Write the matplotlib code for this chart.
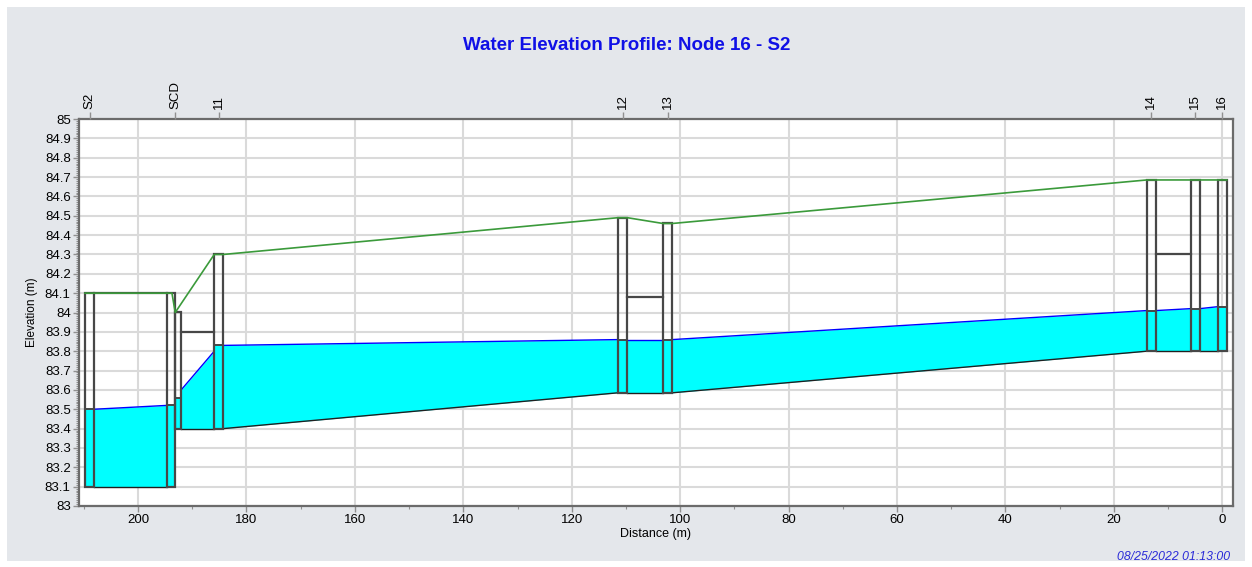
import matplotlib
matplotlib.use("Agg")
import matplotlib.pyplot as plt
from matplotlib.patches import Rectangle
from matplotlib.ticker import MultipleLocator, FuncFormatter

# ---------------- data ----------------
node_names = ["S2", "SCD", "11", "12", "13", "14", "15", "16"]
node_dist = [208.95, 193.15, 185.1, 110.6, 102.3, 13.05, 4.95, 0.0]
node_invert = [83.10, 83.40, 83.40, 83.585, 83.585, 83.80, 83.80, 83.80]
node_rim = [84.10, 84.00, 84.30, 84.49, 84.46, 84.685, 84.685, 84.685]
node_water = [83.50, 83.56, 83.83, 83.86, 83.86, 84.01, 84.02, 84.03]

# links between consecutive nodes (upstream -> downstream)
link_up_invert = [83.10, 83.40, 83.40, 83.585, 83.585, 83.80, 83.80]
link_dn_invert = [83.10, 83.40, 83.585, 83.585, 83.80, 83.80, 83.80]
link_up_crown = [84.10, 83.90, None, 84.08, None, 84.30, None]
link_dn_crown = [84.10, 83.90, None, 84.08, None, 84.30, None]
link_up_water = [83.50, 83.60, 83.83, 83.86, 83.86, 84.01, 84.02]
link_dn_water = [83.52, 83.80, 83.86, 83.86, 84.01, 84.02, 84.03]

x_ticks = [200, 180, 160, 140, 120, 100, 80, 60, 40, 20, 0]
title = "Water Elevation Profile: Node 16 - S2"
stamp = "08/25/2022 01:13:00"

# ---------------- style ----------------
HW = 0.85          # half width of node wells (m)
SCD_UP, SCD_DN = 0.0, 1.1
END_WALL = 1.5     # end wall of first link
CYAN = "#00ffff"
OUT = "#474747"
GREEN = "#3b9a3b"
BLUE = "#0000ff"
PANEL = "#e4e7eb"

plt.rcParams["font.family"] = ["Liberation Sans", "DejaVu Sans"]

fig = plt.figure(figsize=(12.52, 5.67), dpi=100, facecolor="white")
fig.patches.append(Rectangle((7 / 1252, 6 / 567), 1238 / 1252, 554 / 567,
                             transform=fig.transFigure, facecolor=PANEL,
                             edgecolor="none", zorder=-10))
ax = fig.add_axes([79 / 1252, 1 - 506 / 567, 1154 / 1252, 387 / 567])
ax.set_facecolor("white")
ax.set_xlim(210.9, -2.0)
ax.set_ylim(83, 85)

def up_edge(i):
    return node_dist[i] + (SCD_UP if node_names[i] == "SCD" else HW)

def dn_edge(i):
    return node_dist[i] - (SCD_DN if node_names[i] == "SCD" else HW)

# links
for k in range(len(link_up_invert)):
    x0 = dn_edge(k)
    x1 = up_edge(k + 1)
    if k == 0:
        # end wall of the first link
        xw = node_dist[k + 1] + END_WALL
        ax.add_patch(Rectangle((node_dist[k + 1], link_dn_invert[k]), END_WALL,
                               link_dn_water[k] - link_dn_invert[k],
                               facecolor=CYAN, edgecolor=OUT, lw=1.4, zorder=3))
        ax.add_patch(Rectangle((node_dist[k + 1], link_dn_invert[k]), END_WALL,
                               link_dn_crown[k] - link_dn_invert[k],
                               facecolor="none", edgecolor=OUT, lw=1.6, zorder=4))
        x1 = xw
    ax.fill_between([x0, x1], [link_up_invert[k], link_dn_invert[k]],
                    [link_up_water[k], link_dn_water[k]], color=CYAN, lw=0, zorder=2)
    ax.plot([x0, x1], [link_up_water[k], link_dn_water[k]], color=BLUE, lw=1.0, zorder=3)
    ax.plot([x0, x1], [link_up_invert[k], link_dn_invert[k]], color="#202020", lw=1.0, zorder=3)
    if link_up_crown[k] is not None:
        ax.plot([x0, x1], [link_up_crown[k], link_dn_crown[k]], color=OUT, lw=1.6, zorder=3)

# node wells
for i in range(len(node_names)):
    x0 = dn_edge(i)
    w = up_edge(i) - x0
    ax.add_patch(Rectangle((x0, node_invert[i]), w, node_water[i] - node_invert[i],
                           facecolor=CYAN, edgecolor=OUT, lw=1.4, zorder=3))
    ax.add_patch(Rectangle((x0, node_invert[i]), w, node_rim[i] - node_invert[i],
                           facecolor="none", edgecolor=OUT, lw=1.6, zorder=4))

# ground line
gx, gy = [], []
for i in range(len(node_names)):
    if node_names[i] == "SCD":
        gx += [node_dist[i] + END_WALL * 0.4, node_dist[i]]
        gy += [node_rim[i - 1], node_rim[i]]
    else:
        gx += [up_edge(i), dn_edge(i)]
        gy += [node_rim[i], node_rim[i]]
ax.plot(gx, gy, color=GREEN, lw=1.2, zorder=5)

# axes styling
ax.set_xticks(x_ticks)
ax.xaxis.set_minor_locator(MultipleLocator(10))
ax.yaxis.set_major_locator(MultipleLocator(0.1))
ax.yaxis.set_minor_locator(MultipleLocator(0.01))
ax.yaxis.set_major_formatter(FuncFormatter(lambda v, p: f"{v:g}" if abs(v - round(v, 1)) < 1e-6 else ""))
ax.grid(True, which="major", color="#dadada", lw=1.5, zorder=0)
ax.set_axisbelow(True)
for s in ax.spines.values():
    s.set_color("#6b6b6b")
    s.set_linewidth(1.6)
ax.tick_params(which="major", length=4, width=1, color="#909090", labelsize=9.5, pad=2)
ax.tick_params(which="minor", length=2, width=0.8, color="#909090")
ax.set_xlabel("Distance (m)", fontsize=9, labelpad=1)
ax.set_ylabel("Elevation (m)", fontsize=8.5, labelpad=5)

ax2 = ax.twiny()
ax2.set_xlim(ax.get_xlim())
ax2.set_xticks(node_dist)
ax2.set_xticklabels(node_names, rotation=90, fontsize=9.5)
ax2.tick_params(axis="x", length=5, width=1, color="#909090", pad=2)
for s in ax2.spines.values():
    s.set_visible(False)

fig.text(627 / 1252, 1 - 46 / 567, title, ha="center", va="center",
         fontsize=13.5, fontweight="bold", color="#1010e6")
fig.text(1230 / 1252, 1 - 557 / 567, stamp, ha="right", va="center",
         fontsize=8.8, style="italic", color="#2a2ad8")

fig.savefig("out.png", dpi=100, facecolor="white")
